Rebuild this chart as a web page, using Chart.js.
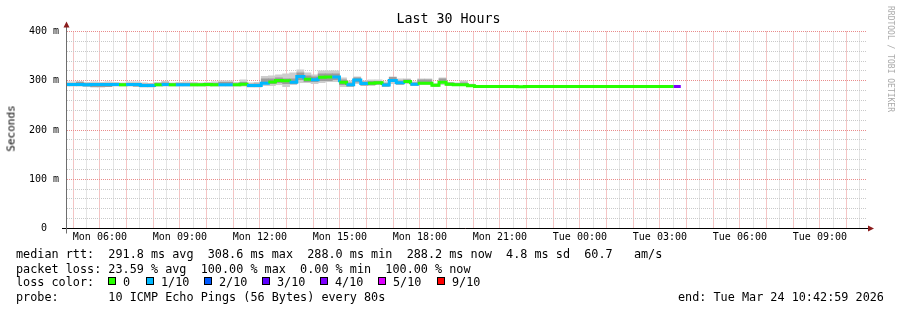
<!DOCTYPE html>
<html>
<head>
<meta charset="utf-8">
<script src="https://cdn.jsdelivr.net/npm/chart.js@4.4.1/dist/chart.umd.min.js"></script>
<style>
  body { margin: 0; background: #fff; }
  #wrap { position: relative; width: 897px; height: 310px; font-family: 'DejaVu Sans Mono', monospace; color: #000; overflow: hidden; }
  #wrap div { position: absolute; white-space: pre; }
  #chart { position: absolute; left: 0; top: 0; }
  #title { left: 0; top: 11px; width: 897px; text-align: center; font-size: 13.3px; line-height: 16px; }
  #ylabel { left: -39px; top: 122px; width: 100px; height: 13px; line-height: 13px; font-size: 11px; font-weight: normal; color: #000; text-align: center; transform: rotate(-90deg); }
  #mark { left: 825px; top: 54px; width: 130px; height: 10px; line-height: 10px; font-size: 8px; color: #aaa; text-align: center; transform: rotate(90deg); }
  .leg { left: 16px; font-size: 11.8px; line-height: 14px; }
  .box { width: 6px; height: 6px; border: 1px solid #000; top: 277px; }
  .boxlab { top: 275px; font-size: 11.8px; line-height: 14px; }
</style>
</head>
<body>
<div id="wrap">
  <canvas id="chart" width="897" height="310"></canvas>
  <div id="title">Last 30 Hours</div>
  <div id="ylabel">Seconds</div>
  <div id="mark">RRDTOOL / TOBI OETIKER</div>
  <div class="leg" style="top:246.5px">median rtt:  291.8 ms avg  308.6 ms max  288.0 ms min  288.2 ms now  4.8 ms sd  60.7   am/s</div>
  <div class="leg" style="top:261.5px">packet loss: 23.59 % avg  100.00 % max  0.00 % min  100.00 % now</div>
  <div class="leg" style="top:275px">loss color:</div>
  <div class="leg" style="top:290px">probe:       10 ICMP Echo Pings (56 Bytes) every 80s</div>
  <div class="leg" style="top:290px; left:678px">end: Tue Mar 24 10:42:59 2026</div>
</div>
<script>
// time in minutes after Mon 00:00, one value per 16 minute step
const bucketStart = 275;
const bucketMinutes = 16;
const viewStart = 286;
const viewEnd = 2086;

const medianRtt = [
  292.5, 292.5, 292.5, 292, 292.5, 292.5, 292.5, 292.5, 292, 292.5,
  292.5, 290.5, 290.5, 292, 292.5, 292, 292, 292, 292, 292,
  292.5, 292, 292, 292, 292, 293, 290.5, 290.5, 295, 297.5,
  300.5, 300, 297, 308.6, 303, 302, 307, 307.5, 307.5, 297,
  292, 301.5, 294.5, 295, 296, 291.5, 300.5, 296, 298.5, 293,
  295, 295, 291, 297, 293, 292, 292, 290,
  288.3, 288.2, 288.1, 288.2, 288.3, 288.2, 288.0, 288.2, 288.1, 288.3,
  288.2, 288.2, 288.1, 288.2, 288.3, 288.2, 288.2, 288.1, 288.2, 288.2,
  288.3, 288.2, 288.1, 288.2, 288.2, 288.2, 288.1, 288.2, 288.2
];
const lossTenths = [
  1, 1, 1, 1, 1, 1, 1, 1, 0, 1,
  1, 1, 1, 0, 1, 0, 1, 1, 0, 0,
  0, 0, 1, 1, 0, 0, 1, 1, 1, 0,
  0, 0, 1, 1, 0, 1, 0, 0, 1, 0,
  1, 1, 1, 0, 0, 1, 1, 1, 0, 1,
  0, 0, 0, 0, 0, 0, 0, 0,
  0, 0, 0, 0, 0, 0, 0, 0, 0, 0,
  0, 0, 0, 0, 0, 0, 0, 0, 0, 0,
  0, 0, 0, 0, 0, 0, 0, 0, 4
];
// smoke: spread of the single pings (outer = all, core = middle ones)
const smokeLow = [
  289, 289, 289, 289, 287, 287, 288, 289, 289, 289,
  288, 287, 287, 289, 289, 289, 289, 289, 289, 289,
  289, 289, 289, 289, 289, 289, 287, 287, 290, 290,
  292, 288, 292, 296, 296, 294, 296, 298, 298, 288,
  288, 294, 290, 290, 292, 288, 294, 292, 294, 290,
  292, 292, 288, 292, 290, 290, 290, 288
];
const smokeHigh = [
  298, 298, 299, 297, 298, 297, 298, 297, 296, 298,
  298, 296, 295, 297, 299, 296, 297, 298, 297, 296,
  297, 298, 300, 300, 297, 302, 296, 297, 309, 310,
  312, 314, 316, 322, 316, 312, 320, 320, 320, 306,
  300, 308, 300, 302, 302, 298, 308, 304, 304, 298,
  304, 304, 294, 306, 297, 296, 300, 293
];
const coreLow = [
  290, 290, 291, 289, 288, 288, 288, 290, 290, 290,
  289, 288, 288, 290, 290, 290, 290, 290, 290, 290,
  290, 290, 290, 290, 290, 291, 288, 288, 294, 294,
  296, 294, 294, 302, 298, 298, 300, 300, 302, 292,
  289, 297, 291, 292, 293, 289, 298, 293, 296, 291,
  296, 296, 289, 296, 291, 290, 291, 288
];
const coreHigh = [
  295, 295, 297, 295, 294, 294, 295, 295, 294, 295,
  295, 293, 293, 295, 296, 294, 295, 295, 294, 294,
  295, 295, 297, 297, 294, 297, 293, 294, 304, 304,
  306, 304, 304, 316, 310, 308, 314, 314, 314, 302,
  296, 306, 298, 299, 299, 295, 307, 300, 302, 296,
  302, 302, 293, 304, 296, 295, 296, 292
];

const lossLevels = [0, 1, 2, 3, 4, 5, 9];
const lossColors = ['#26ff00', '#00b8ff', '#0059ff', '#5e00ff', '#7e00ff', '#dd00ff', '#ff0000'];
const lossLabels = ['0', '1/10', '2/10', '3/10', '4/10', '5/10', '9/10'];
const dayNames = ['Mon', 'Tue'];
const yTickLabels = { 0: '0  ', 100: '100 m', 200: '200 m', 300: '300 m', 400: '400 m' };

const majorGrid = '#e98b8b';
const minorGrid = '#c9c9c9';

function lossColor(n) {
  let c = lossColors[0];
  lossLevels.forEach((lvl, k) => { if (n >= lvl) c = lossColors[k]; });
  return c;
}

// loss colour legend boxes
const boxX = [108, 146, 204, 262, 320, 378, 437];
const wrap = document.getElementById('wrap');
lossLabels.forEach((lab, k) => {
  const b = document.createElement('div');
  b.className = 'box';
  b.style.left = boxX[k] + 'px';
  b.style.background = lossColors[k];
  wrap.appendChild(b);
  const t = document.createElement('div');
  t.className = 'boxlab';
  t.style.left = (boxX[k] + 15) + 'px';
  t.textContent = lab;
  wrap.appendChild(t);
});

const medianPoints = medianRtt.map((v, i) => ({ x: bucketStart + i * bucketMinutes, y: v }));
medianPoints.push({ x: bucketStart + medianRtt.length * bucketMinutes, y: medianRtt[medianRtt.length - 1] });
const outerBars = smokeLow.map((v, i) => ({ x: bucketStart + (i + 0.5) * bucketMinutes, y: [v, smokeHigh[i]] }));
const coreBars = coreLow.map((v, i) => ({ x: bucketStart + (i + 0.5) * bucketMinutes, y: [v, coreHigh[i]] }));

const xTicks = [];
for (let m = 300; m < viewEnd; m += 30) xTicks.push(m);
const yTicks = [];
for (let v = 0; v <= 400; v += 20) yTicks.push(v);

const axisArrows = {
  id: 'axisArrows',
  afterDatasetsDraw(chart) {
    const { ctx, chartArea: a } = chart;
    ctx.save();
    ctx.lineWidth = 1;
    ctx.strokeStyle = '#000';
    ctx.beginPath();
    ctx.moveTo(a.left - 5, a.bottom);
    ctx.lineTo(a.right + 2, a.bottom);
    ctx.stroke();
    ctx.strokeStyle = '#6e6e6e';
    ctx.beginPath();
    ctx.moveTo(a.left - 0.5, a.bottom + 5);
    ctx.lineTo(a.left - 0.5, a.top - 5);
    ctx.stroke();
    ctx.fillStyle = '#8b1c1c';
    ctx.beginPath();
    ctx.moveTo(a.right + 1, a.bottom - 3);
    ctx.lineTo(a.right + 7, a.bottom);
    ctx.lineTo(a.right + 1, a.bottom + 3);
    ctx.fill();
    ctx.beginPath();
    ctx.moveTo(a.left - 3.5, a.top - 4);
    ctx.lineTo(a.left - 0.5, a.top - 10);
    ctx.lineTo(a.left + 2.5, a.top - 4);
    ctx.fill();
    ctx.restore();
  }
};

Chart.defaults.font.family = "'DejaVu Sans Mono', monospace";
Chart.defaults.color = '#000';

new Chart(document.getElementById('chart'), {
  type: 'bar',
  data: {
    datasets: [
      {
        type: 'line',
        data: medianPoints,
        stepped: true,
        borderWidth: 3,
        borderCapStyle: 'butt',
        pointRadius: 0,
        borderColor: lossColors[0],
        segment: { borderColor: c => lossColor(lossTenths[c.p0DataIndex]) },
        clip: 0,
        order: 0
      },
      {
        data: coreBars,
        backgroundColor: '#9c9c9c',
        grouped: false,
        barPercentage: 1,
        categoryPercentage: 1,
        clip: 0,
        order: 1
      },
      {
        data: outerBars,
        backgroundColor: '#cdcdcd',
        grouped: false,
        barPercentage: 1,
        categoryPercentage: 1,
        clip: 0,
        order: 2
      }
    ]
  },
  options: {
    responsive: false,
    animation: false,
    events: [],
    layout: { padding: { top: 31.5, right: 30, bottom: 61.5, left: 0 } },
    plugins: { legend: { display: false }, tooltip: { enabled: false } },
    scales: {
      x: {
        type: 'linear',
        min: viewStart,
        max: viewEnd,
        offset: false,
        afterFit(s) { s.height = 20; },
        afterBuildTicks(s) { s.ticks = xTicks.map(v => ({ value: v })); },
        ticks: {
          autoSkip: false,
          maxRotation: 0,
          padding: 3,
          font: { size: 10 },
          callback: v => {
            if (v % 180 !== 0) return '';
            const h = Math.floor(v / 60);
            return dayNames[Math.floor(h / 24)] + ' ' + String(h % 24).padStart(2, '0') + ':00';
          }
        },
        grid: {
          offset: false,
          drawTicks: false,
          color: c => (c.tick && c.tick.value % 60 === 0 ? majorGrid : minorGrid)
        },
        border: { display: false, dash: [1, 1] }
      },
      y: {
        min: 0,
        max: 400,
        afterFit(s) { s.width = 67; },
        afterBuildTicks(s) { s.ticks = yTicks.map(v => ({ value: v })); },
        ticks: {
          autoSkip: false,
          padding: 8,
          font: { size: 10 },
          callback: v => yTickLabels[v] || ''
        },
        grid: {
          drawTicks: false,
          color: c => (c.tick && c.tick.value % 100 === 0 ? majorGrid : minorGrid)
        },
        border: { display: false, dash: [1, 1] }
      }
    }
  },
  plugins: [axisArrows]
});
</script>
</body>
</html>
